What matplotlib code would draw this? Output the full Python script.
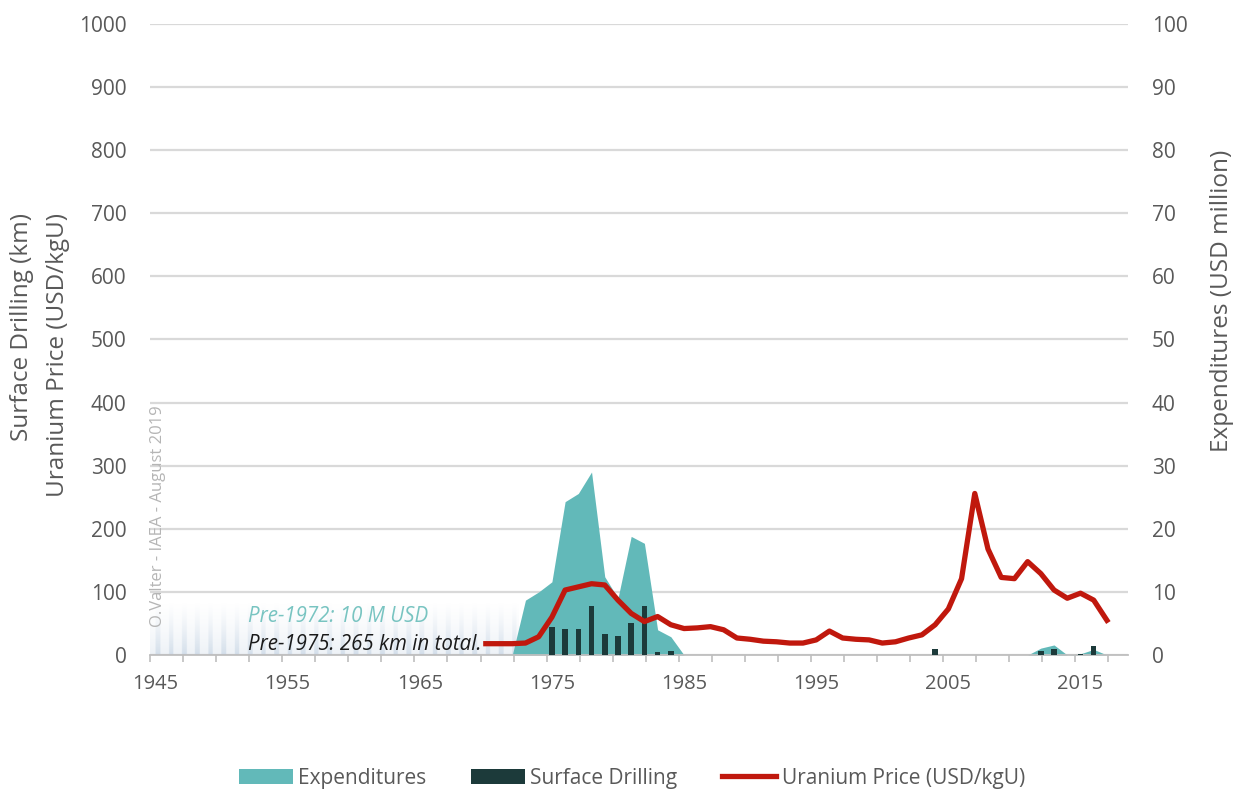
import numpy as np
import matplotlib
matplotlib.use("Agg")
import matplotlib.pyplot as plt
from matplotlib.patches import Patch
from matplotlib.lines import Line2D

plt.rcParams['font.family'] = ['Open Sans', 'DejaVu Sans']

# ---------------- data ----------------
price_years = list(range(1970, 2018))
price = [18, 18, 18, 19, 29, 60, 103, 108, 113, 111, 87, 66, 53, 61, 48, 42,
         43, 45, 40, 27, 25, 22, 21, 19, 19, 24, 38, 27, 25, 24, 19, 21,
         27, 32, 48, 73, 121, 256, 168, 123, 121, 148, 129, 103, 90, 98, 87, 55]

exp_years = list(range(1972, 2018))
expenditures = [0, 8.7, 10, 11.6, 24.3, 25.6, 29, 12.4, 9, 18.8, 17.7, 4.0, 2.9, 0,
                0, 0, 0, 0, 0, 0, 0, 0, 0, 0, 0, 0, 0, 0,
                0, 0, 0, 0, 0, 0, 0, 0, 0, 0, 0,
                0, 1.1, 1.6, 0, 0.2, 0.9, 0]

drill_years = [1975, 1976, 1977, 1978, 1979, 1980, 1981, 1982, 1983, 1984,
               2004, 2012, 2013, 2015, 2016]
drilling = [45, 41, 42, 78, 34, 30, 51, 78, 5, 7, 9, 6, 9, 2, 15]

pre_start, pre_end = 1945, 1972  # pre-1972 aggregated period (decorative band)

x_ticks = [1945, 1955, 1965, 1975, 1985, 1995, 2005, 2015]
left_ticks = list(range(0, 1001, 100))
right_ticks = list(range(0, 101, 10))

# ---------------- style ----------------
TEAL = '#62b9b9'
DARK = '#1c3a3a'
RED = '#c0180d'
GRAY = '#595959'
GRID = '#d9d9d9'

fig = plt.figure(figsize=(12.41, 7.94), dpi=100)
ax = fig.add_axes([0.121, 0.175, 0.788, 0.795])
ax2 = ax.twinx()
ax.set_zorder(2)
ax2.set_zorder(1)
ax.patch.set_visible(False)

xmin, xmax = 1944.6, 2018.6
ax.set_xlim(xmin, xmax)
ax.set_ylim(0, 1000)
ax2.set_ylim(0, 100)

# grid on back axis
ax2.set_yticks(right_ticks)
ax2.yaxis.grid(True, color=GRID, linewidth=1.6, zorder=0)
ax2.set_axisbelow(True)

# decorative pre-1972 striped gradient
nx, ny = 600, 100
xs = np.linspace(pre_start - 0.4, pre_end + 0.5, nx)
ys = np.linspace(0, 1, ny)
frac = (xs - np.floor(xs))
stripe = np.where(frac < 0.35, 1.0, 0.4)
alpha = (1 - ys)[:, None] ** 1.3 * stripe[None, :] * 0.45
img = np.zeros((ny, nx, 4))
img[..., 0] = 0.62
img[..., 1] = 0.72
img[..., 2] = 0.82
img[..., 3] = alpha
ax2.imshow(img, extent=[pre_start - 0.4, pre_end + 0.5, 0, 8.5], origin='lower',
           aspect='auto', zorder=1, interpolation='bilinear')

# expenditures area
ax2.fill_between(exp_years, 0, expenditures, color=TEAL, linewidth=0, zorder=2)

# drilling bars
ax.bar(drill_years, drilling, width=0.42, color=DARK, zorder=3)
# price line
ax.plot(price_years, price, color=RED, linewidth=3.8, zorder=4, solid_joinstyle='round')

# axes styling
for a in (ax, ax2):
    for s in ('left', 'right', 'top'):
        a.spines[s].set_visible(False)
ax.spines['bottom'].set_color('#bfbfbf')
ax.spines['bottom'].set_linewidth(1.3)
ax2.spines['bottom'].set_visible(False)

ax.set_yticks(left_ticks)
ax.set_yticklabels([str(v) for v in left_ticks])
ax.tick_params(axis='y', length=0, labelsize=15, labelcolor=GRAY, pad=17)
ax2.set_yticklabels([str(v) for v in right_ticks])
ax2.tick_params(axis='y', length=0, labelsize=15, labelcolor=GRAY, pad=17)

ax.set_xticks(x_ticks)
ax.set_xticklabels([str(v) for v in x_ticks])
ax.tick_params(axis='x', which='major', length=0, labelsize=14.5, labelcolor=GRAY, pad=14)
ax.set_xticks(np.arange(xmin, xmax + 0.01, 2.5), minor=True)
ax.tick_params(axis='x', which='minor', length=5, color='#bfbfbf', width=1.2)

# axis titles
fig.text(0.032, 1 - 213 / 794, 'Surface Drilling (km)\nUranium Price (USD/kgU)',
         rotation=90, fontsize=17.5, color=GRAY, ha='center', va='top',
         multialignment='right', linespacing=1.65)
fig.text(1222 / 1241, 1 - 301 / 794, 'Expenditures (USD million)', rotation=90,
         fontsize=17.5, color=GRAY, ha='center', va='center')

# annotations
ax.text(1952.0, 61, 'Pre-1972: 10 M USD', fontsize=14.8, style='italic',
        color='#78c4c1', va='center', ha='left', zorder=5)
ax.text(1952.0, 16, 'Pre-1975: 265 km in total.', fontsize=14.8, style='italic',
        color='#1a1a1a', va='center', ha='left', zorder=5)
ax.text(1945.2, 396, 'O.Valter - IAEA - August 2019', rotation=90, fontsize=12,
        color='#b5b5b5', va='top', ha='center', zorder=5)

# legend
handles = [Patch(facecolor=TEAL, edgecolor='none'),
           Patch(facecolor=DARK, edgecolor='none'),
           Line2D([0], [0], color=RED, linewidth=3.8)]
labels = ['Expenditures', 'Surface Drilling', 'Uranium Price (USD/kgU)']
leg = fig.legend(handles, labels, loc='center', bbox_to_anchor=(0.509, 0.02), ncol=3,
                 frameon=False, fontsize=15, handlelength=2.6, handleheight=0.7,
                 handletextpad=0.25, columnspacing=2.15)
for t in leg.get_texts():
    t.set_color(GRAY)

fig.savefig('out.png', dpi=100)
